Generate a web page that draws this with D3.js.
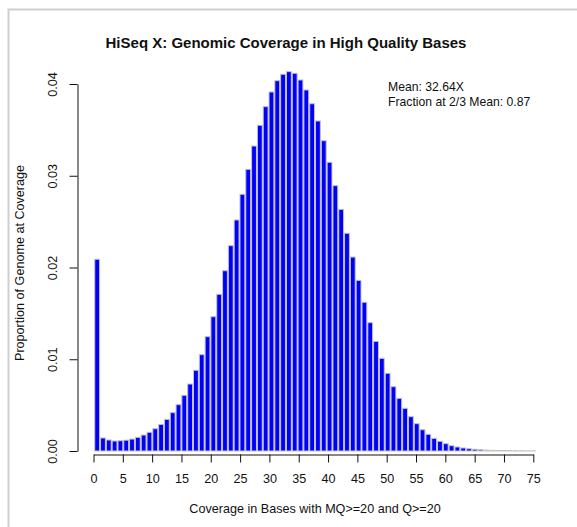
<!DOCTYPE html>
<html>
<head>
<meta charset="utf-8">
<script src="https://cdn.jsdelivr.net/npm/d3@7"></script>
<style>
  html, body { margin: 0; padding: 0; background: #fff; }
  svg { display: block; font-family: "Liberation Sans", Arial, Helvetica, sans-serif; }
</style>
</head>
<body>
<svg id="chart" width="577" height="527"></svg>
<script>
// ---- data ----
const coverage = d3.range(0, 76);
const proportion = [
  0.0209, 0.00142, 0.0012, 0.00109, 0.00112, 0.00118, 0.0013, 0.00149, 0.00174, 0.00204,
  0.00243, 0.0029, 0.00345, 0.00418, 0.00505, 0.00607, 0.0073, 0.0088, 0.0105, 0.01246,
  0.01464, 0.01708, 0.01965, 0.02238, 0.02518, 0.02798, 0.0307, 0.03324, 0.0355, 0.03753,
  0.03913, 0.04036, 0.04106, 0.04135, 0.04117, 0.04044, 0.03935, 0.03785, 0.03597, 0.03382,
  0.03147, 0.02892, 0.02634, 0.02373, 0.02114, 0.0186, 0.01621, 0.01399, 0.01195, 0.0101,
  0.00847, 0.00701, 0.00574, 0.00465, 0.00374, 0.00298, 0.00232, 0.00182, 0.00138, 0.00106,
  0.0008, 0.00058, 0.00044, 0.00033, 0.00025, 0.00019, 0.00014, 0.0001, 0.00007, 0.00005,
  0.00004, 0.00003, 0.00002, 0.00002, 0.00001, 0.00001
];
const xTicks = [0, 5, 10, 15, 20, 25, 30, 35, 40, 45, 50, 55, 60, 65, 70, 75];
const yTicks = [0.00, 0.01, 0.02, 0.03, 0.04];
const titleText = "HiSeq X: Genomic Coverage in High Quality Bases";
const xLabel = "Coverage in Bases with MQ>=20 and Q>=20";
const yLabel = "Proportion of Genome at Coverage";
const legendLines = ["Mean: 32.64X", "Fraction at 2/3 Mean: 0.87"];

// ---- layout ----
const svg = d3.select("#chart");
const fs = 12.6;

// frame
svg.append("path")
  .attr("d", "M8.5,527 L8.5,9.5 L577,9.5")
  .attr("fill", "none").attr("stroke", "#cfcfcf").attr("stroke-width", 2);

const y = d3.scaleLinear().domain([0, 0.04]).range([451, 84]);
const xAxisScale = d3.scaleLinear().domain([0, 75]).range([93.5, 533.3]);
const xBar = d3.scaleBand().domain(coverage).range([94.25, 535.8])
  .paddingInner(1 / 6).paddingOuter(1 / 12);

// bars
svg.append("g").selectAll("rect")
  .data(coverage)
  .join("rect")
  .attr("x", (d) => xBar(d))
  .attr("width", xBar.bandwidth())
  .attr("y", (d, i) => y(proportion[i]))
  .attr("height", (d, i) => y(0) - y(proportion[i]))
  .attr("fill", "#0000ff")
  .attr("stroke", "#c4c4c4")
  .attr("stroke-width", 1);

// y axis
const yAxis = d3.axisLeft(y).tickValues(yTicks).tickFormat(d3.format(".2f")).tickSize(8).tickSizeOuter(0);
const gy = svg.append("g").attr("transform", "translate(77.5,0)").call(yAxis);
gy.select(".domain").attr("stroke", "#111");
gy.selectAll(".tick line").attr("stroke", "#111");
gy.selectAll(".tick text")
  .attr("x", null).attr("dy", null)
  .attr("transform", "translate(-21,0) rotate(-90)")
  .attr("text-anchor", "middle")
  .attr("font-size", fs)
  .attr("font-family", "Liberation Sans, Arial, sans-serif")
  .attr("fill", "#111");

// x axis
const xAxis = d3.axisBottom(xAxisScale).tickValues(xTicks).tickFormat(d3.format("d")).tickSize(8).tickSizeOuter(0);
const gx = svg.append("g").attr("transform", "translate(0,454.5)").call(xAxis);
gx.select(".domain").attr("stroke", "#111");
gx.selectAll(".tick line").attr("stroke", "#111");
gx.selectAll(".tick text")
  .attr("y", 28).attr("dy", null)
  .attr("font-size", fs)
  .attr("font-family", "Liberation Sans, Arial, sans-serif")
  .attr("fill", "#111");

// title
svg.append("text")
  .attr("x", 286).attr("y", 48)
  .attr("text-anchor", "middle")
  .attr("font-size", 15).attr("font-weight", "bold")
  .attr("fill", "#111")
  .text(titleText);

// x label
svg.append("text")
  .attr("x", 315).attr("y", 513)
  .attr("text-anchor", "middle")
  .attr("font-size", fs).attr("fill", "#111")
  .text(xLabel);

// y label
svg.append("text")
  .attr("transform", "translate(24,263) rotate(-90)")
  .attr("text-anchor", "middle")
  .attr("font-size", fs).attr("fill", "#111")
  .text(yLabel);

// legend text
svg.append("g").selectAll("text")
  .data(legendLines)
  .join("text")
  .attr("x", 388)
  .attr("y", (d, i) => 90.5 + i * 15.5)
  .attr("font-size", 12.2).attr("fill", "#111")
  .text((d) => d);
</script>
</body>
</html>
